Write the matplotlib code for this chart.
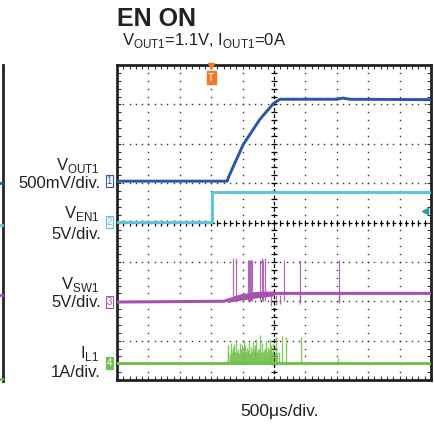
import numpy as np
from matplotlib import pyplot as plt
from matplotlib.lines import Line2D

plt.rcParams["font.family"] = ["Liberation Sans", "DejaVu Sans"]

# traces in divisions (x: 0..10, y: 0..8)
vout_t = [0, 3.51, 3.55, 4.02, 4.55, 4.98, 5.19, 7.0, 7.2, 7.4, 10]
vout_v = [5.05, 5.05, 5.15, 5.98, 6.62, 7.02, 7.13, 7.13, 7.16, 7.13, 7.12]

ven_t = [0, 3.03, 3.03, 10]
ven_v = [4.01, 4.01, 4.77, 4.77]

vsw_t = [0, 3.4, 3.9, 4.4, 5.0, 10]
vsw_v = [1.98, 2.0, 2.12, 2.18, 2.2, 2.2]
vsw_band_t = [3.5, 3.9, 4.4, 5.0]
vsw_band_lo = [1.97, 2.02, 2.08, 2.14]
vsw_band_hi = [2.05, 2.18, 2.25, 2.26]
vsw_spike_t = [3.68, 3.78, 4.17, 4.21, 4.24, 4.27, 4.30, 4.55, 4.61, 4.66, 4.71, 5.32, 5.83, 7.07]
vsw_spike_v = [3.1, 3.1, 3.05, 3.05, 3.05, 3.05, 3.05, 3.05, 3.1, 3.05, 3.1, 3.05, 3.05, 3.05]
vsw_dip_t = [4.9, 5.05, 5.2, 5.83, 7.07]
vsw_dip_v = [1.88, 1.9, 1.92, 1.93, 1.95]

il_t = [0, 10]
il_v = [0.43, 0.43]
il_spike_t = [3.52, 3.55, 3.59, 3.62, 3.66, 3.68, 3.71, 3.74, 3.77, 3.8, 3.83, 3.86, 3.89,
              3.92, 3.95, 3.98, 4.01, 4.03, 4.06, 4.08, 4.11, 4.14, 4.17, 4.2, 4.23, 4.26,
              4.29, 4.32, 4.35, 4.38, 4.41, 4.44, 4.47, 4.5, 4.53, 4.56, 4.59, 4.62, 4.65,
              4.68, 4.71, 4.74, 4.77, 4.8, 4.83, 4.86, 4.89, 4.92, 4.95, 4.98, 5.02, 5.05,
              5.1, 5.15, 5.25, 5.38, 5.85, 7.05]
il_spike_v = [0.7, 0.9, 0.65, 0.95, 0.7, 0.75, 0.85, 0.92, 0.7, 0.96, 0.72, 0.8, 0.68,
              0.95, 0.78, 0.88, 0.7, 1.0, 0.76, 0.9, 0.7, 0.82, 0.75, 0.97, 0.68, 0.85,
              0.74, 1.0, 0.8, 0.9, 0.72, 1.05, 0.7, 0.8, 0.78, 1.15, 0.72, 0.95, 0.7,
              0.75, 0.82, 1.0, 0.7, 0.85, 0.76, 1.05, 0.72, 0.9, 0.7, 0.95, 0.68, 1.1,
              0.72, 0.7, 1.12, 1.08, 1.1, 0.55]

blue = "#2a55a8"
cyan = "#5cc6d6"
purple = "#a454ac"
green = "#72c048"
orange = "#f07a2a"

fig = plt.figure(figsize=(4.34, 4.25), dpi=100)
ax = fig.add_axes([117 / 434, 1 - 380 / 425, 314 / 434, 315 / 425])
ax.set_xlim(0, 10)
ax.set_ylim(0, 8)

# graticule: dotted lines made of dots at the minor positions
minor = np.arange(0, 8.01, 0.2)
minor_x = np.arange(0, 10.01, 0.2)
for gx in [1, 2, 3, 4, 6, 7, 8, 9]:
    ax.plot(np.full_like(minor, gx), minor, ls="none", marker="s", ms=1.0, color="#333333", mew=0)
for gy in [1, 2, 3, 5, 6, 7]:
    ax.plot(minor_x, np.full_like(minor_x, gy), ls="none", marker="s", ms=1.0, color="#333333", mew=0)
# centre cross with ticks
ax.axvline(5, color="black", lw=0.9, ls=(0, (3, 2)))
ax.axhline(4, color="black", lw=0.9, ls=(0, (3, 2)))
ax.plot(np.full_like(minor, 5), minor, ls="none", marker="_", ms=5, mew=0.9, color="black")
ax.plot(minor_x, np.full_like(minor_x, 4), ls="none", marker="|", ms=5, mew=0.9, color="black")

# traces
ax.plot(vout_t, vout_v, color=blue, lw=2.1, zorder=5)
ax.plot(ven_t, ven_v, color=cyan, lw=2.1, zorder=4)
ax.vlines(vsw_spike_t, 2.0, vsw_spike_v, color=purple, lw=0.9, alpha=0.85, zorder=4)
ax.vlines(vsw_dip_t, vsw_dip_v, 2.15, color=purple, lw=0.9, alpha=0.85, zorder=4)
ax.fill_between(vsw_band_t, vsw_band_lo, vsw_band_hi, color=purple, lw=0, zorder=4)
ax.plot(vsw_t, vsw_v, color=purple, lw=2.2, zorder=4)
ax.vlines(il_spike_t, 0.43, il_spike_v, color=green, lw=1.0, alpha=0.85, zorder=4)
ax.plot(il_t, il_v, color=green, lw=2.1, zorder=4)

# frame and edge ticks
for s in ax.spines.values():
    s.set_linewidth(2)
    s.set_color("#222222")
ax.set_xticks(np.arange(0, 11, 1))
ax.set_yticks(np.arange(0, 9, 1))
ax.set_xticks(minor_x, minor=True)
ax.set_yticks(minor, minor=True)
ax.tick_params(which="both", direction="in", top=True, right=True, labelbottom=False,
               labelleft=False, length=3, width=0.8, color="#333333")

# channel markers
markers = [("1", 5.05, blue, "white", blue), ("2", 4.01, cyan, "white", cyan),
           ("3", 1.98, purple, "white", purple), ("4", 0.43, "white", green, green)]
for txt, y, tc, fc, ec in markers:
    ax.text(-0.24, y, txt, color=tc, fontsize=7, ha="center", va="center", clip_on=False,
            bbox=dict(boxstyle="square,pad=0.12", fc=fc, ec=ec, lw=0.8))

# trigger marker and level arrow
ax.plot([3.0], [7.98], marker="v", ms=5, color=orange, clip_on=False, zorder=6)
ax.text(3.0, 7.68, "T", color="white", fontsize=7, ha="center", va="center", zorder=6,
        bbox=dict(boxstyle="square,pad=0.15", fc=orange, ec=orange))
ax.plot([9.82], [4.29], marker="<", ms=4, color="#2a9a9a", zorder=6)

# labels
lab = dict(ha="right", fontsize=12, color="#222222")
fig.text(100 / 434, 1 - 170 / 425, r"V$_{\mathregular{OUT1}}$", **lab)
fig.text(101 / 434, 1 - 188 / 425, "500mV/div.", **lab)
fig.text(99 / 434, 1 - 218 / 425, r"V$_{\mathregular{EN1}}$", **lab)
fig.text(101 / 434, 1 - 239 / 425, "5V/div.", **lab)
fig.text(99 / 434, 1 - 289 / 425, r"V$_{\mathregular{SW1}}$", **lab)
fig.text(101 / 434, 1 - 307 / 425, "5V/div.", **lab)
fig.text(99 / 434, 1 - 358 / 425, r"I$_{\mathregular{L1}}$", **lab)
fig.text(101 / 434, 1 - 377 / 425, "1A/div.", **lab)

fig.text(117 / 434, 1 - 26 / 425, "EN ON", fontsize=18, fontweight="bold", color="#222222")
fig.text(122 / 434, 1 - 45 / 425, r"V$_{\mathregular{OUT1}}$=1.1V, I$_{\mathregular{OUT1}}$=0A",
         fontsize=12, color="#222222")
fig.text(280 / 434, 1 - 416 / 425, "500μs/div.", fontsize=12.5, ha="center", color="#222222")

# edge of the neighbouring panel
fig.add_artist(Line2D([3 / 434, 3 / 434], [1 - 65 / 425, 1 - 381 / 425], color="#222222", lw=2))
for yy, c in [(183, blue), (225, cyan), (295, purple), (379, green)]:
    fig.add_artist(Line2D([0, 2 / 434], [1 - yy / 425, 1 - yy / 425], color=c, lw=2))

plt.savefig("out.png", dpi=100)
